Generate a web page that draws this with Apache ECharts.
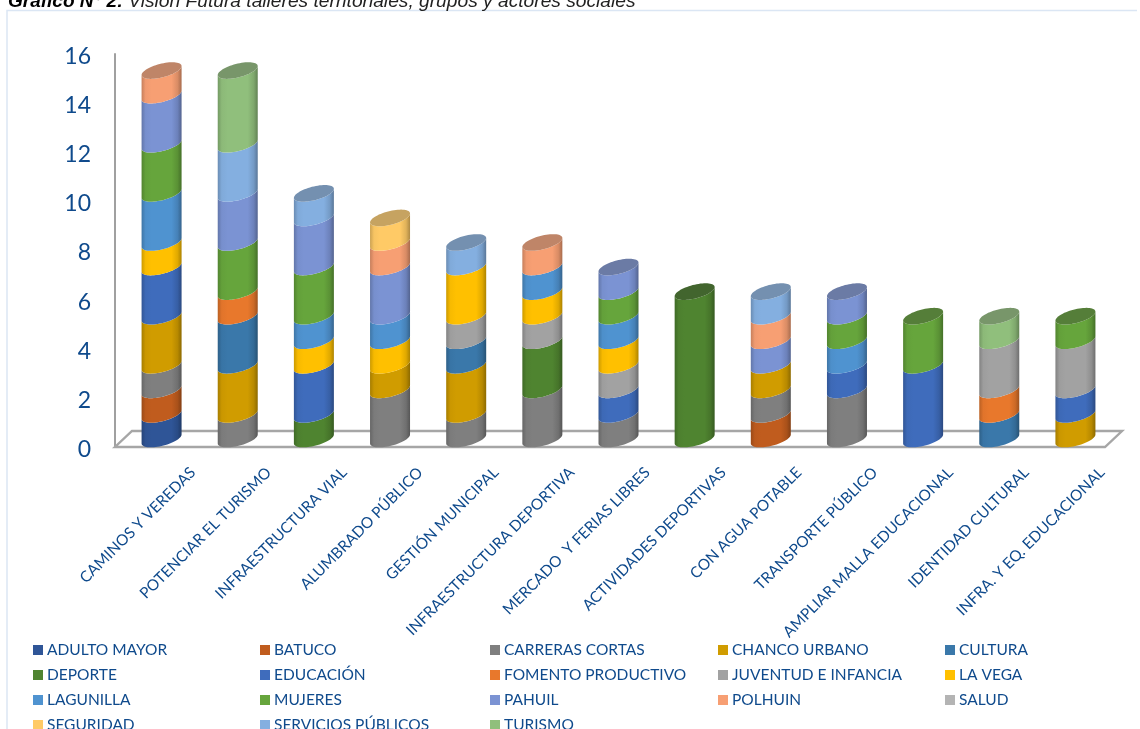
<!DOCTYPE html>
<html><head><meta charset="utf-8">
<script src="https://cdn.jsdelivr.net/npm/echarts@6/dist/echarts.min.js"></script>
<style>html,body{margin:0;padding:0;background:#fff;overflow:hidden}#c{width:1140px;height:729px}</style>
</head><body><div id="c"></div>
<script>
const categories = ['CAMINOS Y VEREDAS','POTENCIAR EL TURISMO','INFRAESTRUCTURA VIAL','ALUMBRADO PÚBLICO','GESTIÓN MUNICIPAL','INFRAESTRUCTURA DEPORTIVA','MERCADO  Y FERIAS LIBRES','ACTIVIDADES DEPORTIVAS','CON AGUA POTABLE','TRANSPORTE PÚBLICO','AMPLIAR MALLA EDUCACIONAL','IDENTIDAD CULTURAL','INFRA. Y EQ. EDUCACIONAL'];
const seriesNames = ['ADULTO MAYOR','BATUCO','CARRERAS CORTAS','CHANCO URBANO','CULTURA','DEPORTE','EDUCACIÓN','FOMENTO PRODUCTIVO','JUVENTUD E INFANCIA','LA VEGA','LAGUNILLA','MUJERES','PAHUIL','POLHUIN','SALUD','SEGURIDAD','SERVICIOS PÚBLICOS','TURISMO'];
const adultoMayor = [1,0,0,0,0,0,0,0,0,0,0,0,0];
const batuco      = [1,0,0,0,0,0,0,0,1,0,0,0,0];
const carreras    = [1,1,0,2,1,2,1,0,1,2,0,0,0];
const chanco      = [2,2,0,1,2,0,0,0,1,0,0,0,1];
const cultura     = [0,2,0,0,1,0,0,0,0,0,0,1,0];
const deporte     = [0,0,1,0,0,2,0,6,0,0,0,0,0];
const educacion   = [2,0,2,0,0,0,1,0,0,1,3,0,1];
const fomento     = [0,1,0,0,0,0,0,0,0,0,0,1,0];
const juventud    = [0,0,0,0,1,1,1,0,0,0,0,2,2];
const laVega      = [1,0,1,1,2,1,1,0,0,0,0,0,0];
const lagunilla   = [2,0,1,1,0,1,1,0,0,1,0,0,0];
const mujeres     = [2,2,2,0,0,0,1,0,0,1,2,0,1];
const pahuil      = [2,2,2,2,0,0,1,0,1,1,0,0,0];
const polhuin     = [1,0,0,1,0,1,0,0,1,0,0,0,0];
const salud       = [0,0,0,0,0,0,0,0,0,0,0,0,0];
const seguridad   = [0,0,0,1,0,0,0,0,0,0,0,0,0];
const servicios   = [0,2,1,0,1,0,0,0,1,0,0,0,0];
const turismo     = [0,3,0,0,0,0,0,0,0,0,0,1,0];
const seriesValues = [adultoMayor,batuco,carreras,chanco,cultura,deporte,educacion,fomento,juventud,laVega,lagunilla,mujeres,pahuil,polhuin,salud,seguridad,servicios,turismo];
const colors = ['#2f5597','#c05c1e','#7f7f7f','#d09c00','#3a78aa','#4f8430','#3f6cbc','#e8782c','#a2a2a2','#ffc000','#4f93d0','#66a53c','#7b93d3','#f79f73','#b4b4b4','#ffca66','#84afe0','#90bf7c'];
const legendColumns = [[0,5,10,15],[1,6,11,16],[2,7,12,17],[3,8,13],[4,9,14]];
const legendLeft = [33,260,490,718,945];

const TXT = '#0f4a8c';
function shade(hex,f,mix){
  const n=parseInt(hex.slice(1),16);let r=n>>16,g=(n>>8)&255,b=n&255;
  const avg=(r+g+b)/3;const m=mix||0;
  r=(r*(1-m)+avg*m)*f;g=(g*(1-m)+avg*m)*f;b=(b*(1-m)+avg*m)*f;
  return 'rgb('+Math.round(r)+','+Math.round(g)+','+Math.round(b)+')';
}
const totals = categories.map((_,i)=>seriesValues.reduce((s,a)=>s+a[i],0));
const cum = categories.map(()=>0);
const DEPTH_X=8.5, DEPTH_Y=8, RX=20, SK=4.5, RY=7;
function arc(cx,cy,a0,a1,n){const p=[];for(let i=0;i<=n;i++){const t=(a0+(a1-a0)*i/n)*Math.PI/180;
  p.push([cx+RX*Math.cos(t),cy-SK*Math.cos(t)+RY*Math.sin(t)]);}return p;}
function cylinder(color){
  return function(params,api){
    const i=api.value(0),lo=api.value(1),hi=api.value(2);
    const a=api.coord([i,lo]),b=api.coord([i,hi]);
    const cx=a[0]+DEPTH_X,yb=a[1]-DEPTH_Y,yt=b[1]-DEPTH_Y;
    const pts=arc(cx,yb,180,0,32).concat(arc(cx,yt,0,180,32));
    const children=[{type:'polygon',shape:{points:pts},style:{fill:new echarts.graphic.LinearGradient(0,0,1,0,[
      {offset:0,color:shade(color,.8)},{offset:.1,color:shade(color,.97)},{offset:.25,color:color},
      {offset:.75,color:color},{offset:.9,color:shade(color,.88)},{offset:1,color:shade(color,.68)}])}}];
    if(hi===totals[i]){children.push({type:'polygon',shape:{points:arc(cx,yt,0,360,64)},
      style:{fill:shade(color,.82,.2)}});}
    return {type:'group',children};
  };
}
const seriesList = seriesNames.map((name,s)=>{
  const data=[];
  seriesValues[s].forEach((v,i)=>{if(v>0){data.push([i,cum[i],cum[i]+v]);cum[i]+=v;}});
  return {name,type:'custom',xAxisIndex:0,yAxisIndex:0,itemStyle:{color:colors[s]},
    encode:{x:0,y:[1,2]},data,renderItem:cylinder(colors[s]),z:3,silent:true};
});
const floor = {type:'custom',name:'_floor',xAxisIndex:0,yAxisIndex:0,silent:true,z:1,data:[[0,0]],
  renderItem(params,api){
    const o=api.coord([0,0]);const g=params.coordSys;const x0=g.x,x1=g.x+g.width,y=o[1];
    return {type:'polygon',shape:{points:[[x0,y],[x1,y],[x1+17,y-16],[x0+17,y-16]]},
      style:{fill:'none',stroke:'#a6a6a6',lineWidth:2.4}};
  }};
const legends = legendColumns.map((col,k)=>({
  orient:'vertical',left:legendLeft[k],top:642,height:120,padding:0,itemWidth:10,itemHeight:10,itemGap:9,selectedMode:false,
  data:col.map(i=>seriesNames[i]),icon:'rect',
  textStyle:{color:TXT,fontFamily:'Lato',fontSize:15.5,padding:[0,0,0,-1],height:16,lineHeight:16}
}));
const chart=echarts.init(document.getElementById('c'),null,{renderer:'canvas'});
chart.setOption({
  animation:false,backgroundColor:'#fff',
  title:{left:3,top:-12.5,text:'{b|Gráfico N° 2:} {i|Visión Futura talleres territoriales, grupos y actores sociales}',
    textStyle:{fontWeight:'normal',rich:{b:{fontFamily:'Liberation Sans',fontWeight:'bold',fontStyle:'italic',fontSize:19,color:'#000'},
      i:{fontFamily:'Liberation Sans',fontWeight:'normal',fontStyle:'italic',fontSize:19.2,color:'#222'}}}},
  graphic:[{type:'polyline',z:0,shape:{points:[[7,729],[7,10.5],[1137,10.5]]},style:{fill:'none',stroke:'#dbe6f4',lineWidth:1.5}}],
  legend:legends,
  grid:[{left:115,width:990,top:54,bottom:282},{left:155,width:990,top:56.5,bottom:279.5}],
  xAxis:[
    {type:'category',gridIndex:0,data:categories,axisLine:{show:false},axisTick:{show:false},axisLabel:{show:false},splitLine:{show:false}},
    {type:'category',gridIndex:1,data:categories,axisLine:{show:false},axisTick:{show:false},splitLine:{show:false},
     axisLabel:{interval:0,rotate:45,margin:20.5,color:TXT,fontFamily:'Lato',fontSize:15.3}}
  ],
  yAxis:[
    {type:'value',gridIndex:0,min:0,max:16,interval:2,splitLine:{show:false},axisTick:{show:false},
     axisLine:{show:true,lineStyle:{color:'#a0a0a0',width:2}},axisLabel:{show:false}},
    {type:'value',gridIndex:1,min:0,max:16,interval:2,splitLine:{show:false},axisTick:{show:false},axisLine:{show:false},
     axisLabel:{margin:64,color:TXT,fontFamily:'Lato',fontSize:23}}
  ],
  series:[floor].concat(seriesList)
});
</script></body></html>
